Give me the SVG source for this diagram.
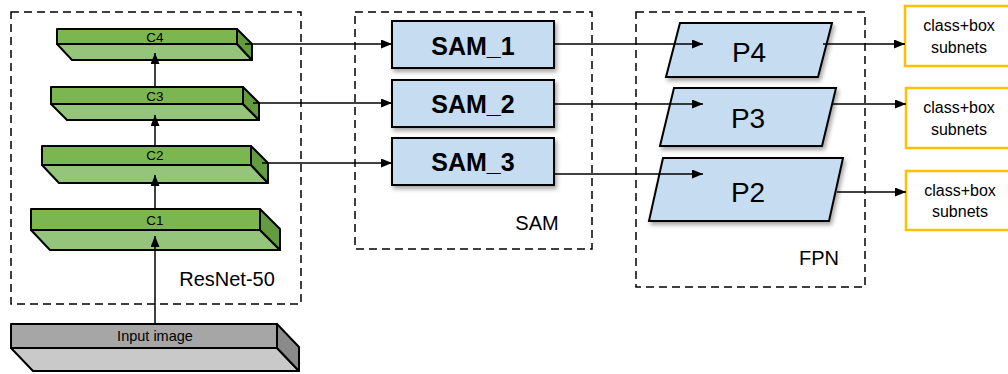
<svg xmlns="http://www.w3.org/2000/svg" width="1008" height="374" viewBox="0 0 1008 374">
<style>
.dash{fill:none;stroke:#000;stroke-width:1.5;stroke-dasharray:8,5}
.gf{fill:#7CB651;stroke:#000;stroke-width:2;stroke-linejoin:round}
.gb{fill:#95C57A;stroke:#000;stroke-width:2;stroke-linejoin:round}
.gs{fill:#629C3F;stroke:#000;stroke-width:2;stroke-linejoin:round}
.kf{fill:#A6A6A6;stroke:#000;stroke-width:2;stroke-linejoin:round}
.kb{fill:#C9C9C9;stroke:#000;stroke-width:2;stroke-linejoin:round}
.ks{fill:#8A8A8A;stroke:#000;stroke-width:2;stroke-linejoin:round}
.blue{fill:#C6DCF0;stroke:#000;stroke-width:2;filter:url(#sh)}
.yel{fill:#fff;stroke:#FFC000;stroke-width:2.5}
.t{font-family:"Liberation Sans",Arial,sans-serif;fill:#000;text-anchor:middle}
.c{font-size:13.5px}
.sam{font-size:25px;font-weight:bold}
.p{font-size:28px}
.cb{font-size:16px}
.lab{font-size:20px}
.con line{stroke:#000;stroke-width:1.5;fill:none;marker-end:url(#ah)}
</style>
<defs>
<marker id="ah" viewBox="0 0 11 9" refX="11" refY="4.5" markerWidth="11" markerHeight="9" markerUnits="userSpaceOnUse" orient="auto">
<path d="M0,0 L11,4.5 L0,9 Z" fill="#000"/>
</marker>
<filter id="sh" x="-10%" y="-20%" width="130%" height="150%">
<feDropShadow dx="2" dy="3" stdDeviation="2" flood-color="#000" flood-opacity="0.35"/>
</filter>
</defs>
<rect width="1008" height="374" fill="#fff"/>
<g id="resnet-group">
<rect class="dash" x="11" y="12" width="290" height="292"/>
<text class="t lab" x="227" y="286">ResNet-50</text>
</g>
<g id="sam-group">
<rect class="dash" x="355" y="12" width="237" height="237"/>
<text class="t lab" x="537" y="230">SAM</text>
</g>
<g id="fpn-group">
<rect class="dash" x="636" y="12" width="229" height="275"/>
<text class="t lab" x="819" y="265">FPN</text>
</g>
<g id="C4">
<polygon class="gb" points="57,44 237,44 252,60 72,60"/>
<polygon class="gs" points="237,29 252,44 252,60 237,44"/>
<rect class="gf" x="57" y="29" width="180" height="15"/>
<text class="t c" x="155" y="41.5">C4</text>
</g>
<g id="C3">
<polygon class="gb" points="51,104 243,104 259,120 67,120"/>
<polygon class="gs" points="243,87 259,103 259,120 243,104"/>
<rect class="gf" x="51" y="87" width="192" height="17"/>
<text class="t c" x="155" y="100.5">C3</text>
</g>
<g id="C2">
<polygon class="gb" points="42,165 251,165 268,183 59,183"/>
<polygon class="gs" points="251,146 268,163 268,183 251,165"/>
<rect class="gf" x="42" y="146" width="209" height="19"/>
<text class="t c" x="155" y="160">C2</text>
</g>
<g id="C1">
<polygon class="gb" points="31,230 260,230 280,250 50,250"/>
<polygon class="gs" points="260,209 280,229 280,250 260,230"/>
<rect class="gf" x="31" y="209" width="229" height="21"/>
<text class="t c" x="155" y="225">C1</text>
</g>
<g id="input">
<polygon class="kb" points="11,348 277,348 299,371 33,371"/>
<polygon class="ks" points="277,324 299,347 299,371 277,348"/>
<rect class="kf" x="11" y="324" width="266" height="24"/>
<text class="t" x="155" y="341" style="font-size:14.5px">Input image</text>
</g>
<g id="SAM_1">
<rect class="blue" x="392" y="21" width="162" height="47"/>
<text class="t sam" x="473" y="55">SAM_1</text>
</g>
<g id="SAM_2">
<rect class="blue" x="392" y="80" width="162" height="47"/>
<text class="t sam" x="473" y="113">SAM_2</text>
</g>
<g id="SAM_3">
<rect class="blue" x="392" y="138" width="162" height="47"/>
<text class="t sam" x="473" y="171">SAM_3</text>
</g>
<g id="P4">
<polygon class="blue" points="680,23 832,23 818,77 666,77"/>
<text class="t p" x="749" y="62">P4</text>
</g>
<g id="P3">
<polygon class="blue" points="674,88 836,88 822,146 660,146"/>
<text class="t p" x="748" y="128">P3</text>
</g>
<g id="P2">
<polygon class="blue" points="663,158 843,158 829,221 649,221"/>
<text class="t p" x="748" y="202">P2</text>
</g>
<g id="out1">
<rect class="yel" x="905" y="6" width="110" height="60"/>
<text class="t cb" x="959" y="31">class+box</text>
<text class="t cb" x="959" y="53">subnets</text>
</g>
<g id="out2">
<rect class="yel" x="906" y="88" width="110" height="60"/>
<text class="t cb" x="959" y="113">class+box</text>
<text class="t cb" x="959" y="135">subnets</text>
</g>
<g id="out3">
<rect class="yel" x="906" y="171" width="110" height="59"/>
<text class="t cb" x="960" y="196">class+box</text>
<text class="t cb" x="960" y="217">subnets</text>
</g>
<g id="connectors" class="con">
<line x1="155" y1="87" x2="155" y2="53"/>
<line x1="155" y1="146" x2="155" y2="115"/>
<line x1="155" y1="209" x2="155" y2="175"/>
<line x1="155" y1="324" x2="155" y2="236"/>
<line x1="245" y1="44" x2="392" y2="44"/>
<line x1="253" y1="103" x2="392" y2="103"/>
<line x1="262" y1="163" x2="392" y2="163"/>
<line x1="554" y1="44" x2="703" y2="44"/>
<line x1="554" y1="104" x2="703" y2="104"/>
<line x1="554" y1="174" x2="703" y2="174"/>
<line x1="823" y1="44" x2="905" y2="44"/>
<line x1="833" y1="104" x2="906" y2="104"/>
<line x1="837" y1="192" x2="906" y2="192"/>
</g>
</svg>
